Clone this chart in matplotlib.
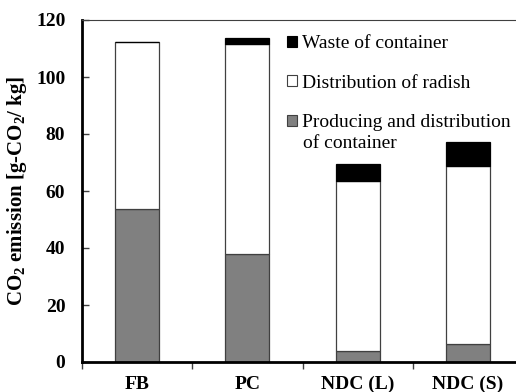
import matplotlib
matplotlib.use("Agg")
import matplotlib.pyplot as plt
from matplotlib.patches import Patch
import numpy as np

categories = ["FB", "PC", "NDC (L)", "NDC (S)"]
producing = [53.6, 37.8, 4.0, 6.3]
distribution = [58.6, 73.7, 59.6, 62.4]
waste = [0.0, 2.2, 5.7, 8.6]
yticks = [0, 20, 40, 60, 80, 100, 120]

plt.rcParams['font.family'] = ['Liberation Serif']
plt.rcParams['mathtext.fontset'] = 'custom'
plt.rcParams['mathtext.rm'] = 'Liberation Serif:bold'
plt.rcParams['mathtext.bf'] = 'Liberation Serif:bold'
plt.rcParams['mathtext.it'] = 'Liberation Serif:bold'
plt.rcParams['mathtext.default'] = 'bf'

fig = plt.figure(figsize=(5.16, 3.92), dpi=100)
ax = fig.add_axes([82/516, 30/392, 441/516, 342/392])

x = np.arange(len(categories))
w = 0.4
ec = '#404040'
ax.bar(x, producing, w, color='#808080', edgecolor=ec, linewidth=0.9)
b1 = np.array(producing)
ax.bar(x, distribution, w, bottom=b1, color='white', edgecolor=ec, linewidth=0.9)
b2 = b1 + np.array(distribution)
ax.bar(x, waste, w, bottom=b2, color='black', edgecolor='black', linewidth=0.9)

ax.set_xlim(-0.5, len(categories) - 0.5)
ax.set_ylim(0, 120)
ax.set_yticks(yticks)
ax.set_yticklabels([str(t) for t in yticks], fontsize=14, fontweight='bold')
ax.tick_params(axis='y', direction='in', length=5, width=1, color='#404040', pad=12)

ax.set_xticks(x)
ax.set_xticklabels(categories, fontsize=14, fontweight='bold')
ax.tick_params(axis='x', which='major', length=0, pad=10)
ax.set_xticks(np.arange(-0.5, len(categories) - 0.5, 1.0), minor=True)
ax.tick_params(axis='x', which='minor', direction='out', length=5, width=1, color='#404040')

for s in ['left', 'bottom']:
    ax.spines[s].set_linewidth(2)
    ax.spines[s].set_color('black')
ax.spines['top'].set_linewidth(0.8)
ax.spines['top'].set_color('#404040')
ax.spines['right'].set_visible(False)

ax.set_ylabel(r'CO$_2$ emission [g-CO$_2$/ kg]', fontsize=15, fontweight='bold', labelpad=5)

handles = [Patch(facecolor='black', edgecolor='black', linewidth=0.8),
           Patch(facecolor='white', edgecolor=ec, linewidth=0.8),
           Patch(facecolor='#808080', edgecolor=ec, linewidth=0.8)]
labels = ["Waste of container", "Distribution of radish", "Producing and distribution"]
leg = ax.legend(handles, labels, loc='upper left', bbox_to_anchor=(205/441, (362-35)/342),
                frameon=False, fontsize=14, handlelength=0.5, handleheight=0.5,
                handletextpad=0.25, labelspacing=1.16, borderaxespad=0, borderpad=0)
ax.text(303/516, 1 - 144/392, "of container", transform=fig.transFigure,
        fontsize=14, va='center', ha='left')

fig.savefig("out.png", dpi=100)
